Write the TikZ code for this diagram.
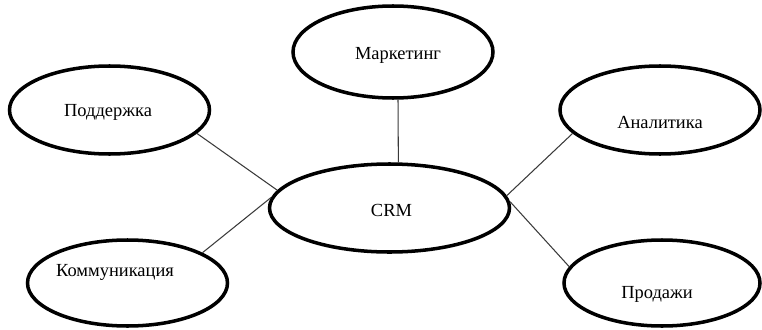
\documentclass[tikz,border=0pt]{standalone}
\usepackage{fontspec}
\setmainfont{Liberation Serif}
\usetikzlibrary{shapes.geometric}
\definecolor{ink}{HTML}{000000}
\definecolor{wire}{HTML}{3A3A3A}
\newcommand{\BubW}{4.0cm}
\newcommand{\BubH}{1.76cm}
\newcommand{\HubW}{4.8cm}
\newcommand{\TopY}{-2.2}
\newcommand{\LowY}{-5.66}

\begin{document}
\begin{tikzpicture}[
    font=\fontsize{10.5}{12}\selectfont, ink,
    bubble/.style={ellipse, draw=ink, line width=2pt, fill=white, inner sep=0pt, minimum width=\BubW, minimum height=\BubH},
    hub/.style={bubble, minimum width=\HubW, minimum height=1.76cm},
    link/.style={draw=wire, line width=0.6pt},
    caption/.style={inner sep=0pt},
  ]
\useasboundingbox (0,0) rectangle (15.24,-6.58);

% --- The hub and the five areas round it ---------------------------------------
\node[hub] (crm) at (7.79,-4.16) {};
\node[bubble, minimum height=1.84cm] (mkt) at (7.86,-1.04) {};
\node[bubble] (support) at (2.19,\TopY) {};
\node[bubble] (analytics) at (13.2,\TopY) {};
\node[bubble, minimum height=1.72cm] (comm) at (2.55,\LowY) {};
\node[bubble, minimum width=3.92cm, minimum height=1.72cm] (sales) at (13.24,\LowY) {};

% --- Texts, set a little off the centres as printed ---------------------------
\node[caption] (crmtxt) at (7.83,-4.2) {CRM};
\node[caption] (mkttxt) at (7.96,-1.1) {Маркетинг};
\node[caption] (supporttxt) at (2.16,-2.24) {Поддержка};
\node[caption] (analyticstxt) at (13.2,-2.44) {Аналитика};
\node[caption] (commtxt) at (2.3,-5.45) {Коммуникация};
\node[caption] (salestxt) at (13.14,-5.88) {Продажи};

% --- Links to the hub -----------------------------------------------------------
\draw[link] (mkt.-84) -- (crm.79);
\draw[link] (support.-15) -- (crm.171);
\draw[link] (comm.22) -- (crm.175);
\draw[link] (analytics.-165) -- (crm.6);
\draw[link] (sales.170) -- (crm.3);

\end{tikzpicture}
\end{document}
